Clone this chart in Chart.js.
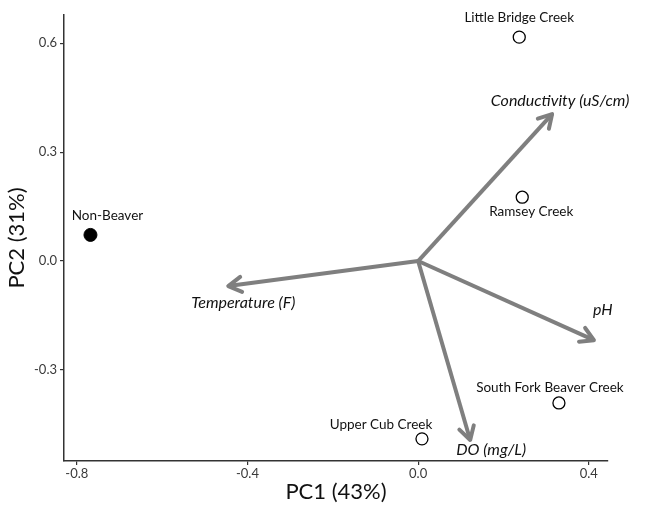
<!DOCTYPE html>
<html>
<head>
<meta charset="utf-8">
<script src="https://cdn.jsdelivr.net/npm/chart.js@4.4.1/dist/chart.umd.min.js"></script>
<style>
  html, body { margin: 0; padding: 0; background: #fff; }
  #wrap { width: 648px; height: 509px; }
</style>
</head>
<body>
<div id="wrap"><canvas id="pca"></canvas></div>
<script>
// Site scores (PC1, PC2)
const siteNames = ['Little Bridge Creek', 'Ramsey Creek', 'South Fork Beaver Creek', 'Upper Cub Creek'];
const siteX = [0.237, 0.244, 0.330, 0.009];
const siteY = [0.617, 0.176, -0.391, -0.490];

const refName = 'Non-Beaver';
const refX = [-0.768];
const refY = [0.072];

// Variable loadings (arrow tips, from origin)
const varNames = ['Conductivity (uS/cm)', 'Temperature (F)', 'pH', 'DO (mg/L)'];
const varX = [0.314, -0.445, 0.412, 0.122];
const varY = [0.405, -0.069, -0.218, -0.493];

const xTicks = [-0.8, -0.4, 0.0, 0.4];
const yTicks = [-0.3, 0.0, 0.3, 0.6];

// label offsets in px (style only)
const siteLabelOff = [[0, -19], [9, 14], [-9, -15], [-41, -14]];
const refLabelOff = [17, -19];
const varLabelOff = [[8, -13], [15, 17], [9, -30], [21, 10]];

const arrowColor = '#7f7f7f';

const datasets = [];
varNames.forEach((name, i) => {
    datasets.push({
        type: 'line',
        label: name,
        data: [{ x: 0, y: 0 }, { x: varX[i], y: varY[i] }],
        borderColor: arrowColor,
        borderWidth: 4,
        pointRadius: 0,
        showLine: true,
        clip: false
    });
});
datasets.push({
    label: 'sites',
    data: siteX.map((x, i) => ({ x: x, y: siteY[i] })),
    pointRadius: 6,
    pointBackgroundColor: '#fff',
    pointBorderColor: '#000',
    pointBorderWidth: 1.3,
    clip: false
});
datasets.push({
    label: refName,
    data: refX.map((x, i) => ({ x: x, y: refY[i] })),
    pointRadius: 6.5,
    pointBackgroundColor: '#000',
    pointBorderColor: '#000',
    clip: false
});

// arrowheads + text labels
const annotate = {
    id: 'annotate',
    afterDatasetsDraw(chart) {
        const ctx = chart.ctx;
        const xs = chart.scales.x, ys = chart.scales.y;
        const x0 = xs.getPixelForValue(0), y0 = ys.getPixelForValue(0);
        ctx.save();
        // arrowheads
        ctx.strokeStyle = arrowColor;
        ctx.lineWidth = 4;
        ctx.lineCap = 'round';
        ctx.lineJoin = 'round';
        varX.forEach((vx, i) => {
            const px = xs.getPixelForValue(vx), py = ys.getPixelForValue(varY[i]);
            const ang = Math.atan2(py - y0, px - x0);
            const len = 15, spread = Math.PI / 6;
            ctx.beginPath();
            ctx.moveTo(px - len * Math.cos(ang - spread), py - len * Math.sin(ang - spread));
            ctx.lineTo(px, py);
            ctx.lineTo(px - len * Math.cos(ang + spread), py - len * Math.sin(ang + spread));
            ctx.stroke();
        });
        ctx.textAlign = 'center';
        ctx.textBaseline = 'middle';
        ctx.fillStyle = '#111';
        // variable labels
        ctx.font = 'italic 16px Lato';
        varNames.forEach((name, i) => {
            const px = xs.getPixelForValue(varX[i]), py = ys.getPixelForValue(varY[i]);
            ctx.fillText(name, px + varLabelOff[i][0], py + varLabelOff[i][1]);
        });
        // site labels
        ctx.font = '13.5px Lato';
        siteNames.forEach((name, i) => {
            const px = xs.getPixelForValue(siteX[i]), py = ys.getPixelForValue(siteY[i]);
            ctx.fillText(name, px + siteLabelOff[i][0], py + siteLabelOff[i][1]);
        });
        ctx.fillText(refName, xs.getPixelForValue(refX[0]) + refLabelOff[0], ys.getPixelForValue(refY[0]) + refLabelOff[1]);
        ctx.restore();
    }
};

new Chart(document.getElementById('pca'), {
    type: 'scatter',
    data: { datasets: datasets },
    plugins: [annotate],
    options: {
        responsive: true,
        maintainAspectRatio: false,
        animation: false,
        layout: { padding: { top: 15, right: 40, left: 0, bottom: 0 } },
        plugins: { legend: { display: false }, tooltip: { enabled: false } },
        scales: {
            x: {
                type: 'linear',
                min: -0.83,
                max: 0.445,
                afterBuildTicks: axis => { axis.ticks = xTicks.map(v => ({ value: v })); },
                afterFit: axis => { axis.height = 48; },
                ticks: {
                    callback: v => v.toFixed(1),
                    color: '#3a3a3a',
                    font: { family: 'Lato', size: 13 },
                    padding: 1,
                    maxRotation: 0
                },
                grid: { drawOnChartArea: false, drawTicks: true, tickLength: 4, color: '#333', lineWidth: 1.2 },
                border: { color: '#333', width: 1.5 },
                title: { display: true, text: 'PC1 (43%)', color: '#111', font: { family: 'Lato', size: 22 }, padding: { top: 3 } }
            },
            y: {
                type: 'linear',
                min: -0.551,
                max: 0.678,
                afterBuildTicks: axis => { axis.ticks = yTicks.map(v => ({ value: v })); },
                afterFit: axis => { axis.width = 64; },
                ticks: {
                    callback: v => v.toFixed(1),
                    color: '#3a3a3a',
                    font: { family: 'Lato', size: 13 },
                    padding: 3
                },
                grid: { drawOnChartArea: false, drawTicks: true, tickLength: 4, color: '#333', lineWidth: 1.2 },
                border: { color: '#333', width: 1.5 },
                title: { display: true, text: 'PC2 (31%)', color: '#111', font: { family: 'Lato', size: 22 }, padding: { bottom: 2 } }
            }
        }
    }
});
</script>
</body>
</html>
